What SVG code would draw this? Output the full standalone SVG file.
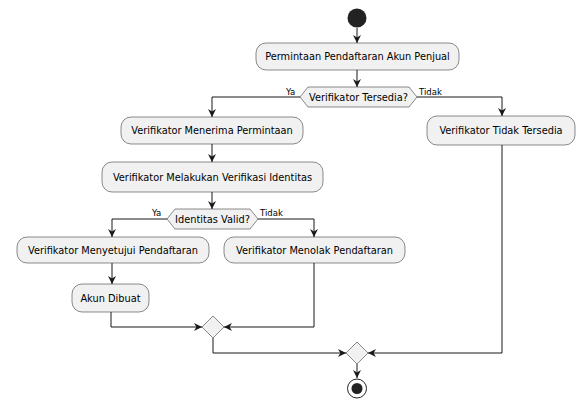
<svg xmlns="http://www.w3.org/2000/svg" width="578" height="416" viewBox="0 0 578 416">
<style>
.box{fill:#F1F1F1;stroke:#181818;stroke-width:0.5}
.dia{fill:#F1F1F1;stroke:#181818;stroke-width:0.5}
.t{font-family:"DejaVu Sans",sans-serif;font-size:9.8px;fill:#000;text-anchor:middle}
.lbl{font-family:"DejaVu Sans",sans-serif;font-size:8.5px;fill:#000}
.c{fill:none;stroke:#181818;stroke-width:1}
</style>
<defs>
<marker id="ar" viewBox="0 0 10 10" refX="10" refY="5" markerWidth="8" markerHeight="8" markerUnits="userSpaceOnUse" orient="auto">
<path d="M0,0 L10,5 L0,10 L3,5 Z" fill="#181818"/>
</marker>
</defs>
<rect width="578" height="416" fill="#fff"/>
<g id="connectors">
<path class="c" d="M357,28 L357,43" marker-end="url(#ar)"/>
<path class="c" d="M357,70 L357,87" marker-end="url(#ar)"/>
<path class="c" d="M300,97 L212,97 L212,117" marker-end="url(#ar)"/>
<path class="c" d="M417,97 L502,97 L502,116" marker-end="url(#ar)"/>
<path class="c" d="M212,144 L212,162" marker-end="url(#ar)"/>
<path class="c" d="M212,192 L212,209" marker-end="url(#ar)"/>
<path class="c" d="M167,219 L112,219 L112,237" marker-end="url(#ar)"/>
<path class="c" d="M258,219 L314,219 L314,237" marker-end="url(#ar)"/>
<path class="c" d="M112,263 L112,284" marker-end="url(#ar)"/>
<path class="c" d="M111,312 L111,327 L202,327" marker-end="url(#ar)"/>
<path class="c" d="M314,263 L314,327 L224,327" marker-end="url(#ar)"/>
<path class="c" d="M213,338 L213,353 L346,353" marker-end="url(#ar)"/>
<path class="c" d="M502,145 L502,353 L368,353" marker-end="url(#ar)"/>
<path class="c" d="M357,364 L357,378" marker-end="url(#ar)"/>
<text class="lbl" x="286" y="95">Ya</text>
<text class="lbl" x="419" y="95">Tidak</text>
<text class="lbl" x="152" y="216">Ya</text>
<text class="lbl" x="260" y="216">Tidak</text>
</g>
<g id="start"><circle cx="357" cy="18" r="9.5" fill="#222"/></g>
<g id="n1"><rect class="box" x="256" y="43" width="203" height="27" rx="10"/><text class="t" x="357.5" y="60">Permintaan Pendaftaran Akun Penjual</text></g>
<g id="d1"><polygon class="dia" points="300,97 308,87 409,87 417,97 409,107 308,107"/><text class="t" x="358.5" y="100.5">Verifikator Tersedia?</text></g>
<g id="n2"><rect class="box" x="121" y="117" width="182" height="27" rx="10"/><text class="t" x="212" y="134">Verifikator Menerima Permintaan</text></g>
<g id="n3"><rect class="box" x="427" y="116" width="148" height="29" rx="10"/><text class="t" x="501" y="134">Verifikator Tidak Tersedia</text></g>
<g id="n4"><rect class="box" x="102" y="162" width="221" height="30" rx="10"/><text class="t" x="212.5" y="180.5">Verifikator Melakukan Verifikasi Identitas</text></g>
<g id="d2"><polygon class="dia" points="167,219 175,209 250,209 258,219 250,229 175,229"/><text class="t" x="212.5" y="222.5">Identitas Valid?</text></g>
<g id="n5"><rect class="box" x="17" y="237" width="192" height="26" rx="10"/><text class="t" x="113" y="253.5">Verifikator Menyetujui Pendaftaran</text></g>
<g id="n6"><rect class="box" x="224" y="237" width="181" height="26" rx="10"/><text class="t" x="314.5" y="253.5">Verifikator Menolak Pendaftaran</text></g>
<g id="n7"><rect class="box" x="72" y="284" width="77" height="28" rx="10"/><text class="t" x="110.5" y="301.5">Akun Dibuat</text></g>
<g id="m1"><polygon class="dia" points="213,316 224,327 213,338 202,327"/></g>
<g id="m2"><polygon class="dia" points="357,342 368,353 357,364 346,353"/></g>
<g id="end"><circle cx="357" cy="388.5" r="9.5" fill="none" stroke="#222" stroke-width="1"/><circle cx="357" cy="388.5" r="5.5" fill="#222"/></g>
</svg>
